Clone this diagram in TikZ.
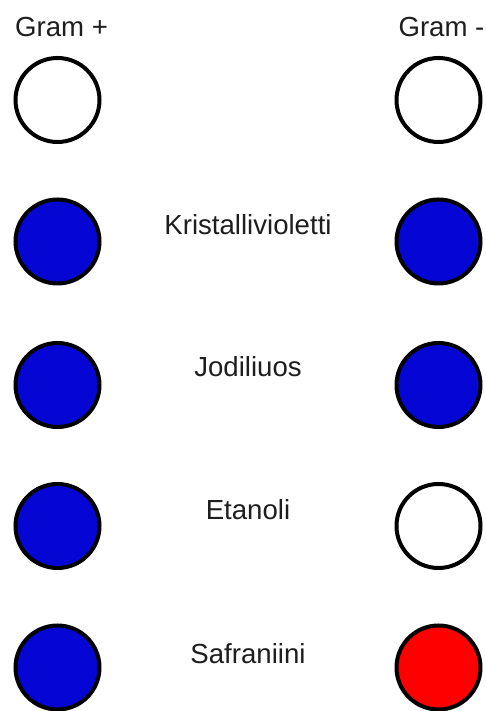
\documentclass[tikz,border=0pt]{standalone}
\usepackage{fontspec}
\setmainfont{Liberation Sans}
\definecolor{stainblue}{RGB}{6,6,212}
\definecolor{stainred}{RGB}{255,0,0}
\definecolor{txt}{RGB}{30,30,30}
\begin{document}
\begin{tikzpicture}[x=1pt,y=1pt,
  cell/.style={circle,draw=black,line width=4pt,minimum size=84pt,inner sep=0pt},
  blank/.style={cell,fill=white},
  blue/.style={cell,fill=stainblue},
  red/.style={cell,fill=stainred},
  lbl/.style={anchor=base,text=txt,inner sep=0pt,font=\fontsize{27.6}{30}\selectfont}]
\useasboundingbox[fill=white] (0,0) rectangle (486,711);
% headers
\node[lbl] (gp) at (61.5,674) {Gram +};
\node[lbl] (gn) at (441.5,674) {Gram -};
% left column
\node[blank] (l1) at (57.5,611) {};
\node[blue]  (l2) at (57.5,469.5) {};
\node[blue]  (l3) at (57.5,326) {};
\node[blue]  (l4) at (57.5,185) {};
\node[blue]  (l5) at (57.5,43.5) {};
% right column
\node[blank] (r1) at (438.5,611) {};
\node[blue]  (r2) at (438.5,469.5) {};
\node[blue]  (r3) at (438.5,326) {};
\node[blank] (r4) at (438.5,185) {};
\node[red]   (r5) at (438.5,43.5) {};
% labels
\node[lbl] (k) at (248,476) {Kristallivioletti};
\node[lbl] (j) at (248,334) {Jodiliuos};
\node[lbl] (e) at (248,191) {Etanoli};
\node[lbl] (s) at (248,47) {Safraniini};
\end{tikzpicture}
\end{document}
